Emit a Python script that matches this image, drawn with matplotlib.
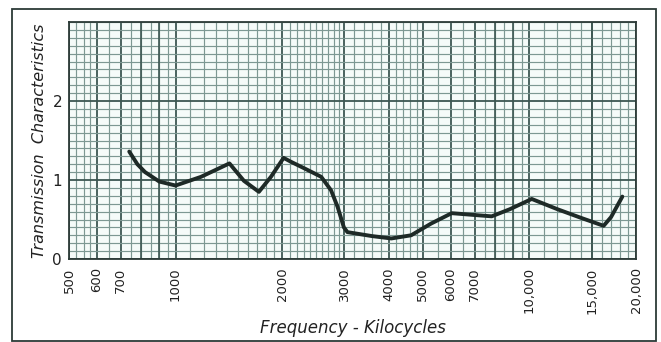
import numpy as np
import matplotlib
matplotlib.use("Agg")
import matplotlib.pyplot as plt
from matplotlib.patches import Rectangle
from matplotlib.ticker import NullFormatter

# ---- data ----
freq_khz = [740, 780, 820, 900, 1000, 1180, 1420, 1560, 1720, 1860, 2020,
            2120, 2330, 2580, 2750, 2870, 2990, 3060, 3590, 4070, 4630,
            5280, 6030, 6860, 7820, 8800, 10150, 12000, 14000, 16200,
            17000, 18300]
transmission = [1.36, 1.20, 1.10, 0.98, 0.93, 1.04, 1.21, 0.99, 0.85, 1.04,
                1.28, 1.23, 1.14, 1.04, 0.87, 0.66, 0.40, 0.34, 0.29, 0.26,
                0.30, 0.45, 0.58, 0.56, 0.54, 0.63, 0.76, 0.63, 0.52, 0.42,
                0.53, 0.79]

tick_vals = [500, 600, 700, 1000, 2000, 3000, 4000, 5000, 6000, 7000,
             10000, 15000, 20000]
tick_labels = ["500", "600", "700", "1000", "2000", "3000", "4000", "5000",
               "6000", "7000", "10,000", "15,000", "20,000"]
y_ticks = [0, 1, 2]
y_labels = ["0", "1", "2"]
extra_heavy = [800, 900, 8000, 9000, 15000]

# ---- figure ----
W, H = 661, 342
fig = plt.figure(figsize=(W / 100, H / 100), dpi=100)
fig.patch.set_facecolor("white")

ax = fig.add_axes([69 / W, 1 - 259 / H, (636 - 69) / W, (259 - 22) / H])
ax.set_facecolor("#f5fbf9")
ax.set_xscale("log")
ax.set_xlim(500, 20000)
ax.set_ylim(0, 3)

minor_x = np.concatenate([
    np.arange(500, 600, 25), np.arange(600, 1000, 50),
    np.arange(1000, 3000, 100), np.arange(3000, 5000, 200),
    np.arange(5000, 10000, 500), np.arange(10000, 20001, 1000)])
ax.set_xticks(minor_x, minor=True)
ax.xaxis.set_minor_formatter(NullFormatter())
ax.set_xticks(tick_vals)
ax.set_xticklabels(tick_labels, rotation=90, fontsize=9.5, color="#222222")
ax.set_yticks(np.arange(0, 3.01, 0.1), minor=True)
ax.yaxis.set_minor_formatter(NullFormatter())
ax.set_yticks(y_ticks)
ax.set_yticklabels(y_labels, fontsize=11, color="#222222")
ax.tick_params(which="both", length=0)
ax.tick_params(axis="x", pad=6)
ax.tick_params(axis="y", pad=5)

ax.grid(which="minor", color="#7d9893", lw=0.85)
ax.grid(which="major", color="#3d5752", lw=1.3)
for v in extra_heavy:
    ax.axvline(v, color="#3d5752", lw=1.2, zorder=1)
ax.set_axisbelow(True)

for s in ax.spines.values():
    s.set_color("#2c3a37")
    s.set_linewidth(1.3)

ax.plot(freq_khz, transmission, color="#1e2a27", lw=2.8,
        solid_joinstyle="round", solid_capstyle="round", zorder=5)

ax.set_xlabel("Frequency - Kilocycles", fontsize=12, style="italic",
              color="#222222", labelpad=4)
ax.set_ylabel("Transmission  Characteristics", fontsize=11.5, style="italic",
              color="#222222", labelpad=4)

# outer frame of the plate
fig.patches.append(Rectangle((12 / W, 1 / H), (656 - 12) / W, (332) / H,
                             transform=fig.transFigure, fill=False,
                             edgecolor="#2c3a37", lw=1.3))

fig.savefig("out.png", dpi=100, facecolor="white")
